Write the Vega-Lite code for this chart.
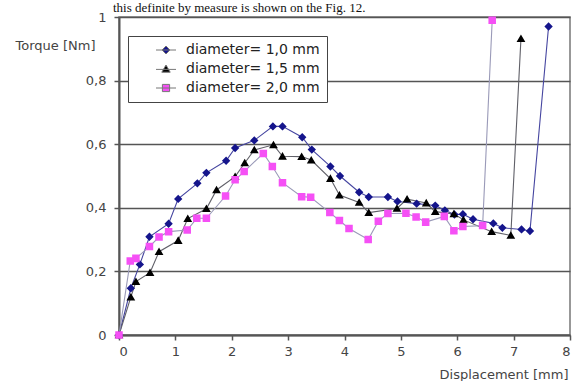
{
  "$schema": "https://vega.github.io/schema/vega-lite/v6.json",
  "width": 451,
  "height": 318,
  "autosize": {"type": "none"},
  "padding": {"left": 119, "top": 17, "right": 9, "bottom": 46},
  "background": "white",
  "title": {
    "text": "this definite by measure is shown on the Fig. 12.",
    "anchor": "start",
    "frame": "group",
    "font": "Liberation Serif",
    "fontSize": 13,
    "fontWeight": "normal",
    "color": "#111",
    "dx": -6,
    "dy": 18,
    "offset": 4,
    "baseline": "alphabetic"
  },
  "config": {
    "view": {"stroke": "#777", "strokeWidth": 1.5},
    "axis": {
      "labelFont": "DejaVu Sans",
      "labelFontSize": 13,
      "labelColor": "#444",
      "titleFont": "DejaVu Sans",
      "titleFontSize": 13,
      "titleFontWeight": "normal",
      "titleColor": "#444",
      "domainColor": "#555",
      "domainWidth": 2,
      "tickColor": "#555",
      "tickWidth": 1.5,
      "tickSize": 5
    }
  },
  "data": {
    "values": [
      {"d": "diameter= 1,0 mm", "x": 0, "y": 0},
      {"d": "diameter= 1,0 mm", "x": 0.21, "y": 0.147},
      {"d": "diameter= 1,0 mm", "x": 0.37, "y": 0.222},
      {"d": "diameter= 1,0 mm", "x": 0.54, "y": 0.309},
      {"d": "diameter= 1,0 mm", "x": 0.88, "y": 0.35},
      {"d": "diameter= 1,0 mm", "x": 1.05, "y": 0.428},
      {"d": "diameter= 1,0 mm", "x": 1.39, "y": 0.477},
      {"d": "diameter= 1,0 mm", "x": 1.55, "y": 0.51},
      {"d": "diameter= 1,0 mm", "x": 1.9, "y": 0.548},
      {"d": "diameter= 1,0 mm", "x": 2.06, "y": 0.588},
      {"d": "diameter= 1,0 mm", "x": 2.4, "y": 0.612},
      {"d": "diameter= 1,0 mm", "x": 2.73, "y": 0.656},
      {"d": "diameter= 1,0 mm", "x": 2.9, "y": 0.656},
      {"d": "diameter= 1,0 mm", "x": 3.25, "y": 0.622},
      {"d": "diameter= 1,0 mm", "x": 3.42, "y": 0.583},
      {"d": "diameter= 1,0 mm", "x": 3.75, "y": 0.53},
      {"d": "diameter= 1,0 mm", "x": 3.92, "y": 0.5},
      {"d": "diameter= 1,0 mm", "x": 4.26, "y": 0.449},
      {"d": "diameter= 1,0 mm", "x": 4.43, "y": 0.434},
      {"d": "diameter= 1,0 mm", "x": 4.77, "y": 0.434},
      {"d": "diameter= 1,0 mm", "x": 4.94, "y": 0.42},
      {"d": "diameter= 1,0 mm", "x": 5.28, "y": 0.413},
      {"d": "diameter= 1,0 mm", "x": 5.61, "y": 0.407},
      {"d": "diameter= 1,0 mm", "x": 5.78, "y": 0.392},
      {"d": "diameter= 1,0 mm", "x": 5.95, "y": 0.379},
      {"d": "diameter= 1,0 mm", "x": 6.1, "y": 0.38},
      {"d": "diameter= 1,0 mm", "x": 6.28, "y": 0.364},
      {"d": "diameter= 1,0 mm", "x": 6.64, "y": 0.351},
      {"d": "diameter= 1,0 mm", "x": 6.8, "y": 0.337},
      {"d": "diameter= 1,0 mm", "x": 7.14, "y": 0.332},
      {"d": "diameter= 1,0 mm", "x": 7.29, "y": 0.327},
      {"d": "diameter= 1,0 mm", "x": 7.62, "y": 0.97},
      {"d": "diameter= 1,5 mm", "x": 0, "y": 0},
      {"d": "diameter= 1,5 mm", "x": 0.21, "y": 0.119},
      {"d": "diameter= 1,5 mm", "x": 0.3, "y": 0.168},
      {"d": "diameter= 1,5 mm", "x": 0.55, "y": 0.196},
      {"d": "diameter= 1,5 mm", "x": 0.71, "y": 0.262},
      {"d": "diameter= 1,5 mm", "x": 1.05, "y": 0.297},
      {"d": "diameter= 1,5 mm", "x": 1.22, "y": 0.366},
      {"d": "diameter= 1,5 mm", "x": 1.55, "y": 0.397},
      {"d": "diameter= 1,5 mm", "x": 1.73, "y": 0.456},
      {"d": "diameter= 1,5 mm", "x": 2.06, "y": 0.498},
      {"d": "diameter= 1,5 mm", "x": 2.23, "y": 0.541},
      {"d": "diameter= 1,5 mm", "x": 2.4, "y": 0.582},
      {"d": "diameter= 1,5 mm", "x": 2.74, "y": 0.598},
      {"d": "diameter= 1,5 mm", "x": 2.9, "y": 0.562},
      {"d": "diameter= 1,5 mm", "x": 3.24, "y": 0.561},
      {"d": "diameter= 1,5 mm", "x": 3.41, "y": 0.55},
      {"d": "diameter= 1,5 mm", "x": 3.75, "y": 0.492},
      {"d": "diameter= 1,5 mm", "x": 3.91, "y": 0.44},
      {"d": "diameter= 1,5 mm", "x": 4.26, "y": 0.417},
      {"d": "diameter= 1,5 mm", "x": 4.43, "y": 0.385},
      {"d": "diameter= 1,5 mm", "x": 4.93, "y": 0.398},
      {"d": "diameter= 1,5 mm", "x": 5.11, "y": 0.427},
      {"d": "diameter= 1,5 mm", "x": 5.45, "y": 0.415},
      {"d": "diameter= 1,5 mm", "x": 5.61, "y": 0.388},
      {"d": "diameter= 1,5 mm", "x": 5.94, "y": 0.381},
      {"d": "diameter= 1,5 mm", "x": 6.11, "y": 0.362},
      {"d": "diameter= 1,5 mm", "x": 6.61, "y": 0.325},
      {"d": "diameter= 1,5 mm", "x": 6.95, "y": 0.313},
      {"d": "diameter= 1,5 mm", "x": 7.13, "y": 0.932},
      {"d": "diameter= 2,0 mm", "x": 0, "y": 0},
      {"d": "diameter= 2,0 mm", "x": 0.2, "y": 0.233},
      {"d": "diameter= 2,0 mm", "x": 0.3, "y": 0.241},
      {"d": "diameter= 2,0 mm", "x": 0.54, "y": 0.278},
      {"d": "diameter= 2,0 mm", "x": 0.71, "y": 0.308},
      {"d": "diameter= 2,0 mm", "x": 0.88, "y": 0.325},
      {"d": "diameter= 2,0 mm", "x": 1.21, "y": 0.33},
      {"d": "diameter= 2,0 mm", "x": 1.38, "y": 0.367},
      {"d": "diameter= 2,0 mm", "x": 1.55, "y": 0.367},
      {"d": "diameter= 2,0 mm", "x": 1.89, "y": 0.437},
      {"d": "diameter= 2,0 mm", "x": 2.06, "y": 0.488},
      {"d": "diameter= 2,0 mm", "x": 2.22, "y": 0.514},
      {"d": "diameter= 2,0 mm", "x": 2.56, "y": 0.571},
      {"d": "diameter= 2,0 mm", "x": 2.72, "y": 0.53},
      {"d": "diameter= 2,0 mm", "x": 2.9, "y": 0.479},
      {"d": "diameter= 2,0 mm", "x": 3.24, "y": 0.435},
      {"d": "diameter= 2,0 mm", "x": 3.4, "y": 0.433},
      {"d": "diameter= 2,0 mm", "x": 3.74, "y": 0.385},
      {"d": "diameter= 2,0 mm", "x": 3.91, "y": 0.36},
      {"d": "diameter= 2,0 mm", "x": 4.08, "y": 0.335},
      {"d": "diameter= 2,0 mm", "x": 4.42, "y": 0.3},
      {"d": "diameter= 2,0 mm", "x": 4.6, "y": 0.358},
      {"d": "diameter= 2,0 mm", "x": 4.77, "y": 0.382},
      {"d": "diameter= 2,0 mm", "x": 5.09, "y": 0.383},
      {"d": "diameter= 2,0 mm", "x": 5.27, "y": 0.371},
      {"d": "diameter= 2,0 mm", "x": 5.44, "y": 0.355},
      {"d": "diameter= 2,0 mm", "x": 5.77, "y": 0.373},
      {"d": "diameter= 2,0 mm", "x": 5.94, "y": 0.328},
      {"d": "diameter= 2,0 mm", "x": 6.1, "y": 0.341},
      {"d": "diameter= 2,0 mm", "x": 6.45, "y": 0.344},
      {"d": "diameter= 2,0 mm", "x": 6.62, "y": 0.99}
    ]
  },
  "encoding": {
    "x": {
      "field": "x",
      "type": "quantitative",
      "scale": {"domain": [0, 8], "nice": false, "zero": false},
      "axis": {
        "values": [0, 1, 2, 3, 4, 5, 6, 7, 8],
        "grid": false,
        "labelPadding": 5,
        "title": "Displacement [mm]",
        "titleAnchor": null,
        "titleAlign": "right",
        "titleX": 449,
        "titleY": 39,
        "titleBaseline": "middle"
      }
    },
    "y": {
      "field": "y",
      "type": "quantitative",
      "scale": {"domain": [0, 1], "nice": false},
      "axis": {
        "values": [0, 0.2, 0.4, 0.6, 0.8, 1],
        "format": ".1~f",
        "labelExpr": "replace(datum.label, '.', ',')",
        "grid": true,
        "gridColor": "#555",
        "gridWidth": 1.5,
        "labelPadding": 8,
        "title": "Torque [Nm]",
        "titleAngle": 0,
        "titleAnchor": null,
        "titleAlign": "left",
        "titleBaseline": "middle",
        "titleX": -104,
        "titleY": 28
      }
    }
  },
  "resolve": {"scale": {"stroke": "independent"}, "legend": {"stroke": "independent"}},
  "layer": [
    {
      "mark": {"type": "line", "strokeWidth": 1.1},
      "encoding": {
        "stroke": {
          "field": "d",
          "type": "nominal",
          "scale": {
            "domain": ["diameter= 1,0 mm", "diameter= 1,5 mm", "diameter= 2,0 mm"],
            "range": ["#4545a0", "#606068", "#9a9ab8"]
          },
          "legend": null
        }
      }
    },
    {
      "mark": {"type": "point", "filled": true, "opacity": 1, "size": 70, "strokeWidth": 0},
      "encoding": {
        "color": {
          "field": "d",
          "type": "nominal",
          "scale": {
            "domain": ["diameter= 1,0 mm", "diameter= 1,5 mm", "diameter= 2,0 mm"],
            "range": ["#15158c", "#000000", "#f550f5"]
          },
          "legend": {
            "title": null,
            "orient": "none",
            "legendX": 9,
            "legendY": 19,
            "fillColor": "white",
            "strokeColor": "#444",
            "padding": 7,
            "labelFont": "DejaVu Sans",
            "labelFontSize": 14,
            "labelColor": "#222",
            "symbolSize": 64,
            "symbolOffset": 24,
            "labelOffset": 13,
            "rowPadding": 5,
            "symbolStrokeColor": "#777",
            "symbolStrokeWidth": 1
          }
        },
        "shape": {
          "field": "d",
          "type": "nominal",
          "scale": {
            "domain": ["diameter= 1,0 mm", "diameter= 1,5 mm", "diameter= 2,0 mm"],
            "range": [
              "M0,-1L1,0L0,1L-1,0Z M-2.5,0H2.5",
              "M0,-1L1.05,0.8L-1.05,0.8Z M-2.5,0.1H2.5",
              "M-0.9,-0.9H0.9V0.9H-0.9Z M-2.5,0H2.5"
            ]
          }
        }
      }
    }
  ]
}
